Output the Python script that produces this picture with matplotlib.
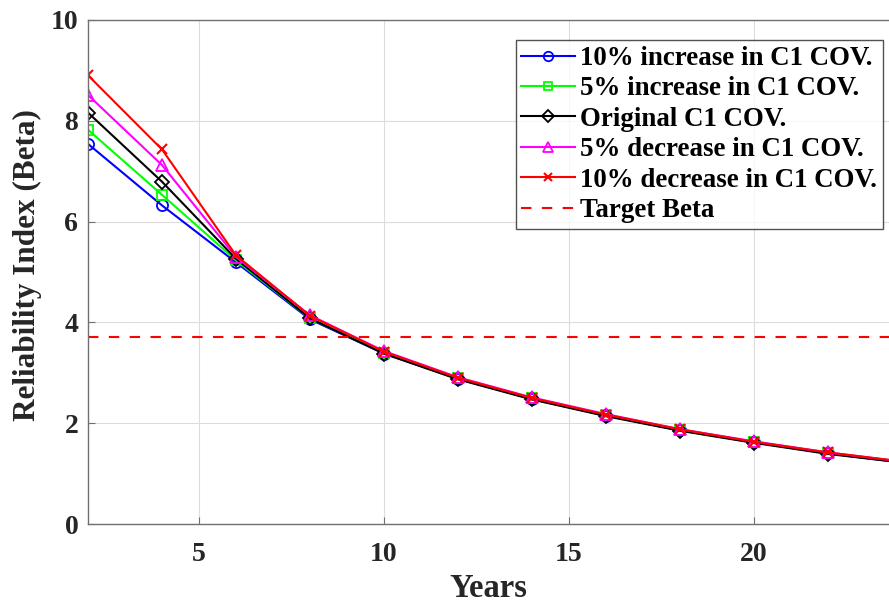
import matplotlib
matplotlib.use("Agg")
import matplotlib.pyplot as plt

years = [2, 4, 6, 8, 10, 12, 14, 16, 18, 20, 22, 24]
inc10 = [7.54, 6.32, 5.19, 4.06, 3.38, 2.88, 2.48, 2.15, 1.86, 1.62, 1.40, 1.22]
inc5 = [7.82, 6.53, 5.23, 4.08, 3.39, 2.89, 2.49, 2.16, 1.87, 1.63, 1.41, 1.23]
orig = [8.16, 6.79, 5.26, 4.08, 3.38, 2.87, 2.47, 2.14, 1.85, 1.61, 1.39, 1.22]
dec5 = [8.51, 7.12, 5.30, 4.14, 3.43, 2.91, 2.51, 2.18, 1.88, 1.64, 1.42, 1.24]
dec10 = [8.90, 7.43, 5.33, 4.13, 3.42, 2.90, 2.50, 2.17, 1.88, 1.63, 1.42, 1.24]
target_beta = 3.7

labels = ["10% increase in C1 COV.", "5% increase in C1 COV.", "Original C1 COV.",
          "5% decrease in C1 COV.", "10% decrease in C1 COV.", "Target Beta"]
xticks = [5, 10, 15, 20]
yticks = [0, 2, 4, 6, 8, 10]

plt.rcParams['font.family'] = ['Liberation Serif', 'DejaVu Serif']
plt.rcParams['font.weight'] = 'bold'

fig = plt.figure(figsize=(8.89, 6.03), dpi=100)
ax = fig.add_axes([0.099, 0.131, 0.901, 0.836])

ax.plot(years, inc10, color='#0000ff', marker='o', ms=8, mfc='none', mew=1.3, lw=1.5, label=labels[0])
ax.plot(years, inc5, color='#00ff00', marker='s', ms=6.5, mfc='none', mew=1.3, lw=1.5, label=labels[1])
ax.plot(years, orig, color='black', marker='D', ms=7.5, mfc='none', mew=1.3, lw=1.5, label=labels[2])
ax.plot(years, dec5, color='#ff00ff', marker='^', ms=9, mfc='none', mew=1.3, lw=1.5, label=labels[3])
ax.plot(years, dec10, color='#ff0000', marker='x', ms=7, mew=1.5, lw=1.5, label=labels[4])
ax.axhline(target_beta, color='#ff0000', ls=(0, (5, 5)), lw=1.5, label=labels[5])

ax.set_xlim(2, 23.65)
ax.set_ylim(0, 10)
ax.set_xticks(xticks)
ax.set_yticks(yticks)
ax.grid(True, color='#dcdcdc', lw=0.8)
ax.set_axisbelow(True)
for s in ['left', 'top', 'bottom']:
    ax.spines[s].set_color('#707070')
    ax.spines[s].set_linewidth(1.0)
ax.spines['right'].set_visible(False)
ax.tick_params(direction='in', length=5, color='#707070', labelsize=20)
ax.tick_params(axis='x', pad=13)
ax.tick_params(axis='y', pad=7)
for t in ax.get_xticklabels() + ax.get_yticklabels():
    t.set_fontweight('bold')
    t.set_color('#262626')

ax.set_xlabel('Years', fontsize=23.5, fontweight='bold', color='#262626', labelpad=4)
ax.set_ylabel('Reliability Index (Beta)', fontsize=22.5, fontweight='bold', color='#262626')
ax.yaxis.set_label_coords(-0.058, 0.514)

leg = ax.legend(loc='upper right', bbox_to_anchor=(0.9925, 0.960), frameon=True,
                fancybox=False, edgecolor='#262626', handlelength=2.0, handletextpad=0.18,
                borderpad=0.22, labelspacing=0.2, borderaxespad=0.0, markerscale=0.85,
                prop={'weight': 'bold', 'size': 19.4})
leg.get_frame().set_linewidth(1.0)

fig.savefig('out.png', dpi=100)
